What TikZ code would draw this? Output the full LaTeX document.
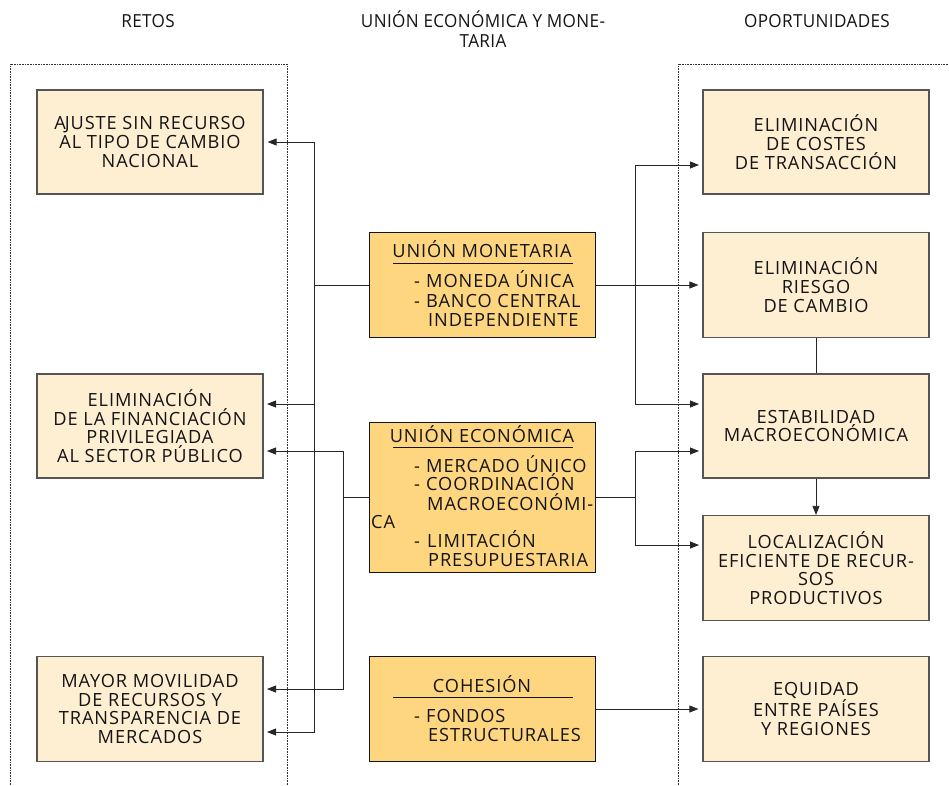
\documentclass[tikz,border=0pt]{standalone}
\usepackage{fontspec}
\setmainfont[LetterSpace=5]{Open Sans}
\newfontfamily\titlefont[FakeStretch=0.95,LetterSpace=2]{Open Sans}
\usetikzlibrary{arrows.meta}
\definecolor{cream}{RGB}{255,239,210}
\definecolor{gold}{RGB}{255,214,128}
\definecolor{edge}{RGB}{85,85,85}
\definecolor{ink}{RGB}{20,20,20}
\begin{document}
\begin{tikzpicture}[x=1pt,y=-1pt,
  txt/.style={font=\fontsize{18.2}{18.7}\selectfont, text=ink},
  lbox/.style={draw=edge, line width=1.2pt, fill=cream, minimum width=226pt, minimum height=104pt, inner sep=0pt, align=center, txt},
  mbox/.style={draw=ink, line width=1pt, fill=gold, minimum width=226pt, inner sep=0pt},
  ttl/.style={font=\titlefont\fontsize{18}{20}\selectfont, text=ink, align=center, inner sep=0pt},
  it/.style={anchor=base west, inner sep=0pt, txt},
  hd/.style={anchor=base, inner sep=0pt, txt},
  conn/.style={draw=black!85, line width=0.8pt},
  arr/.style={conn, -{Triangle[length=9pt,width=7pt]}, shorten >=4pt},
  frame/.style={draw=black!80, line width=0.6pt, densely dotted}
]
\useasboundingbox (0,0) rectangle (949,785);
% titles
\node[ttl, anchor=base] (t1) at (148,27) {RETOS};
\node[ttl, anchor=base] (t2) at (483,27) {UNIÓN ECONÓMICA Y MONE-};
\node[ttl, anchor=base] (t2b) at (483,47) {TARIA};
\node[ttl, anchor=base] (t3) at (817,27) {OPORTUNIDADES};
% dotted frames
\draw[frame] (10,785) -- (10,64) -- (287,64) -- (287,785);
\draw[frame] (678,785) -- (678,64) -- (949,64);
% left boxes
\node[lbox] (L1) at (150,142) {A\kern-1pt JUSTE SIN RECURSO\\AL TIPO DE CAMBIO\\NACIONAL};
\node[lbox] (L2) at (150,426) {ELIMINACIÓN\\DE LA FINANCIACIÓN\\PRIVILEGIADA\\AL SECTOR PÚBLICO};
\node[lbox, minimum height=105pt] (L3) at (150,709) {MAYOR MOVILIDAD\\DE RECURSOS Y\\TRANSPARENCIA DE\\MERCADOS};
% right boxes
\node[lbox] (R1) at (816,142) {ELIMINACIÓN\\DE COSTES\\DE TRANSACCIÓN};
\node[lbox, minimum height=105pt] (R2) at (816,285) {ELIMINACIÓN\\RIESGO\\DE CAMBIO};
\node[lbox] (R3) at (816,426) {ESTABILIDAD\\MACROECONÓMICA};
\node[lbox, minimum height=105pt] (R4) at (816,568) {LOCALIZACIÓN\\EFICIENTE DE RECUR-\\SOS\\PRODUCTIVOS};
\node[lbox, minimum height=105pt] (R5) at (816,709) {EQUIDAD\\ENTRE PAÍSES\\Y REGIONES};
% middle boxes
\node[mbox, minimum height=105pt] (M1) at (482,285) {};
\node[mbox, minimum height=150pt] (M2) at (482,497) {};
\node[mbox, minimum height=105pt] (M3) at (482,709) {};
% M1 text
\node[hd] (m1h) at (482,257) {UNIÓN MONETARIA};
\draw[ink, line width=1pt] (393,263) -- (573,263);
\node[it] (m1d1) at (414,287) {-}; \node[it] (m1a) at (426,287) {MONEDA ÚNICA};
\node[it] (m1d2) at (414,307) {-}; \node[it] (m1b) at (426,307) {BANCO CENTRAL};
\node[it] (m1c) at (428,326) {INDEPENDIENTE};
% M2 text
\node[hd] (m2h) at (482,442) {UNIÓN ECONÓMICA};
\draw[ink, line width=1pt] (393,447) -- (573,447);
\node[it] (m2d1) at (414,472) {-}; \node[it] (m2a) at (426,472) {MERCADO ÚNICO};
\node[it] (m2d2) at (414,490) {-}; \node[it] (m2b) at (426,490) {COORDINACIÓN};
\node[it] (m2c) at (427,510) {MACROECONÓMI-};
\node[it] (m2e) at (371,528) {CA};
\node[it] (m2d3) at (414,547) {-}; \node[it] (m2f) at (427,547) {LIMITACIÓN};
\node[it] (m2g) at (428,566) {PRESUPUESTARIA};
% M3 text
\node[hd] (m3h) at (482,692) {COHESIÓN};
\draw[ink, line width=1pt] (393,697) -- (573,697);
\node[it] (m3d1) at (414,722) {-}; \node[it] (m3a) at (426,722) {FONDOS};
\node[it] (m3b) at (428,741) {ESTRUCTURALES};
% junctions and arrow ends
\coordinate (J1) at (314,285);
\coordinate (J2) at (343,497);
\coordinate (J3) at (635,285);
\coordinate (J4) at (635,497);
\coordinate (L2a) at (263,404);
\coordinate (L2b) at (263,451);
\coordinate (L3a) at (263,689);
\coordinate (L3b) at (263,732);
\coordinate (R1a) at (703,165);
\coordinate (R3a) at (703,404);
\coordinate (R3b) at (703,451);
\coordinate (R4a) at (703,545);
% left connectors
\draw[conn] (M1.west) -- (J1);
\draw[arr] (J1) |- (L1.east);
\draw[arr] (J1) |- (L2a);
\draw[arr] (J1) |- (L3b);
\draw[conn] (M2.west) -- (J2);
\draw[arr] (J2) |- (L2b);
\draw[arr] (J2) |- (L3a);
% right connectors
\draw[arr] (M1.east) -- (R2.west);
\draw[arr] (J3) |- (R1a);
\draw[arr] (J3) |- (R3a);
\draw[conn] (M2.east) -- (J4);
\draw[arr] (J4) |- (R3b);
\draw[arr] (J4) |- (R4a);
\draw[conn] (R2.south) -- (R3.north);
\draw[arr, shorten >=0pt] (R3.south) -- (R4.north);
\draw[arr] (M3.east) -- (R5.west);
\end{tikzpicture}
\end{document}
